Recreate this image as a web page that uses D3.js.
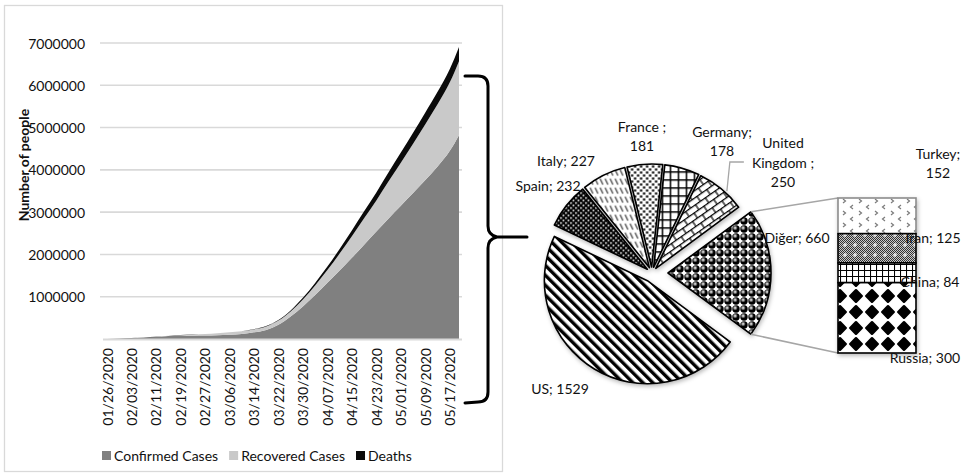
<!DOCTYPE html>
<html>
<head>
<meta charset="utf-8">
<script src="https://cdn.jsdelivr.net/npm/d3@7"></script>
<style>
  html, body { margin: 0; padding: 0; background: #fff; }
  svg { display: block; font-family: Lato, "Open Sans", sans-serif; }
</style>
</head>
<body>
<svg id="chart" width="964" height="474"></svg>
<script>
// ---------------- data ----------------
const dates = [
  "2020-01-26","2020-01-30","2020-02-03","2020-02-07","2020-02-11","2020-02-15",
  "2020-02-19","2020-02-23","2020-02-27","2020-03-02","2020-03-06","2020-03-10",
  "2020-03-14","2020-03-18","2020-03-22","2020-03-26","2020-03-30","2020-04-03",
  "2020-04-07","2020-04-11","2020-04-15","2020-04-19","2020-04-23","2020-04-27",
  "2020-05-01","2020-05-05","2020-05-09","2020-05-13","2020-05-17","2020-05-20"
];
const confirmed = [
  2000, 10000, 20000, 34000, 45000, 69000,
  75000, 79000, 83000, 90000, 102000, 119000,
  157000, 214000, 337000, 530000, 770000, 1040000,
  1330000, 1620000, 1920000, 2230000, 2540000, 2850000,
  3150000, 3450000, 3760000, 4080000, 4450000, 4820000
];
const recovered = [
  50, 200, 600, 2000, 5000, 9000,
  16000, 23000, 33000, 45000, 55000, 62000,
  72000, 83000, 98000, 122000, 165000, 226000,
  300000, 400000, 511000, 624000, 737000, 880000,
  1020000, 1170000, 1320000, 1470000, 1620000, 1750000
];
const deaths = [
  60, 200, 400, 700, 1100, 1700,
  2100, 2500, 2800, 3100, 3500, 4300,
  5800, 8700, 14600, 24000, 38000, 59000,
  82000, 109000, 137000, 165000, 190000, 211000,
  238000, 257000, 279000, 296000, 315000, 335000
];
const seriesNames = ["Confirmed Cases", "Recovered Cases", "Deaths"];
const yTicks = [1000000, 2000000, 3000000, 4000000, 5000000, 6000000, 7000000];
const xTickDates = [
  "2020-01-26","2020-02-03","2020-02-11","2020-02-19","2020-02-27","2020-03-06",
  "2020-03-14","2020-03-22","2020-03-30","2020-04-07","2020-04-15","2020-04-23",
  "2020-05-01","2020-05-09","2020-05-17"
];

// pie of countries (thousands); "Diğer" is split out into the bar
const pieCountries = ["Diğer", "US", "Spain", "Italy", "France", "Germany", "United Kingdom"];
const pieValues = [660, 1529, 232, 227, 181, 178, 250];
const barCountries = ["Turkey", "Iran", "China", "Russia"];
const barValues = [152, 125, 84, 300];

// ---------------- setup ----------------
const svg = d3.select("#chart");
const defs = svg.append("defs");
const textColor = "#111";

// soft outer shadow used by the pie and the bar
const shadow = defs.append("filter").attr("id", "shadow")
  .attr("x", "-20%").attr("y", "-20%").attr("width", "140%").attr("height", "140%");
shadow.append("feDropShadow").attr("dx", 1).attr("dy", 2)
  .attr("stdDeviation", 2.2).attr("flood-color", "#000").attr("flood-opacity", 0.28);

// ---- fill patterns ----
function pattern(id, w, h, transform) {
  const p = defs.append("pattern").attr("id", id)
    .attr("patternUnits", "userSpaceOnUse").attr("width", w).attr("height", h);
  if (transform) p.attr("patternTransform", transform);
  return p;
}
// wide downward diagonal
{
  const p = pattern("pUS", 7, 7, "rotate(-45)");
  p.append("rect").attr("width", 7).attr("height", 7).attr("fill", "#fff");
  p.append("rect").attr("width", 3.4).attr("height", 7).attr("fill", "#000");
}
// spheres
{
  const g = defs.append("radialGradient").attr("id", "gSphere")
    .attr("cx", "38%").attr("cy", "35%").attr("r", "65%");
  g.append("stop").attr("offset", "0").attr("stop-color", "#fff");
  g.append("stop").attr("offset", "0.22").attr("stop-color", "#9a9a9a");
  g.append("stop").attr("offset", "0.55").attr("stop-color", "#000");
  g.append("stop").attr("offset", "1").attr("stop-color", "#000");
  const p = pattern("pDiger", 8, 8);
  p.append("rect").attr("width", 8).attr("height", 8).attr("fill", "#fff");
  p.append("circle").attr("cx", 4).attr("cy", 4).attr("r", 3.7).attr("fill", "url(#gSphere)");
}
// shingle
{
  const p = pattern("pUK", 12, 12, "rotate(-35)");
  p.append("rect").attr("width", 12).attr("height", 12).attr("fill", "#fff");
  p.append("path").attr("d", "M0,0.6H12 M0,6.6H12 M3,0.6V6.6 M9,6.6V12.6")
    .attr("stroke", "#000").attr("stroke-width", 1.2).attr("fill", "none");
}
// large grid
{
  const p = pattern("pDE", 8, 8);
  p.append("rect").attr("width", 8).attr("height", 8).attr("fill", "#fff");
  p.append("path").attr("d", "M0,0.75H8 M0.75,0V8")
    .attr("stroke", "#000").attr("stroke-width", 1.5);
}
// confetti dots
{
  const p = pattern("pFR", 6, 6);
  p.append("rect").attr("width", 6).attr("height", 6).attr("fill", "#fff");
  p.append("rect").attr("x", 0.4).attr("y", 0.4).attr("width", 2.2).attr("height", 2.2).attr("fill", "#000");
  p.append("rect").attr("x", 3.4).attr("y", 3.4).attr("width", 2.2).attr("height", 2.2).attr("fill", "#000");
}
// dashed downward diagonal
{
  const p = pattern("pIT", 5, 9);
  p.append("rect").attr("width", 5).attr("height", 9).attr("fill", "#fff");
  p.append("path").attr("d", "M1,1.5L3.4,6.5").attr("stroke", "#444")
    .attr("stroke-width", 1.3).attr("stroke-linecap", "round");
}
// dark dotted
{
  const p = pattern("pES", 5, 5);
  p.append("rect").attr("width", 5).attr("height", 5).attr("fill", "#000");
  p.append("circle").attr("cx", 1.25).attr("cy", 1.25).attr("r", 0.9).attr("fill", "#fff");
  p.append("circle").attr("cx", 3.75).attr("cy", 3.75).attr("r", 0.9).attr("fill", "#fff");
}
// divot
{
  const p = pattern("pTR", 16, 12);
  p.append("rect").attr("width", 16).attr("height", 12).attr("fill", "#fff");
  p.append("path").attr("d", "M5,1L2.5,3L5,5 M11,7L13.5,9L11,11")
    .attr("stroke", "#7a7a7a").attr("stroke-width", 1.2).attr("fill", "none");
}
// stipple with white crosses
{
  const s = pattern("pStip", 2, 2);
  s.append("rect").attr("width", 2).attr("height", 2).attr("fill", "#c8c8c8");
  s.append("rect").attr("width", 1).attr("height", 1).attr("fill", "#333");
  s.append("rect").attr("x", 1).attr("y", 1).attr("width", 1).attr("height", 1).attr("fill", "#333");
  const p = pattern("pIR", 10, 10);
  p.append("rect").attr("width", 10).attr("height", 10).attr("fill", "url(#pStip)");
  p.append("path").attr("d", "M5,3V7 M3,5H7").attr("stroke", "#fff").attr("stroke-width", 1.1);
}
// small grid
{
  const p = pattern("pCN", 6, 6);
  p.append("rect").attr("width", 6).attr("height", 6).attr("fill", "#fff");
  p.append("path").attr("d", "M0,0.5H6 M0.5,0V6").attr("stroke", "#000").attr("stroke-width", 1.1);
}
// solid diamond
{
  const p = pattern("pRU", 16, 16);
  p.append("rect").attr("width", 16).attr("height", 16).attr("fill", "#fff");
  p.append("path").attr("d", "M8,2.2L13.8,8L8,13.8L2.2,8Z")
    .attr("fill", "#000").attr("stroke", "#000").attr("stroke-width", 2.4).attr("stroke-linejoin", "round");
}

// ================= left: stacked area chart =================
svg.append("rect").attr("x", 4.5).attr("y", 5.5).attr("width", 498).attr("height", 466)
  .attr("fill", "none").attr("stroke", "#d9d9d9").attr("stroke-width", 1.3);

const parse = d3.utcParse("%Y-%m-%d");
const rows = dates.map((d, i) => ({
  date: parse(d), confirmed: confirmed[i], recovered: recovered[i], deaths: deaths[i]
}));
const keys = ["confirmed", "recovered", "deaths"];
const colors = ["#808080", "#c9c9c9", "#0a0a0a"];

const x = d3.scaleUtc().domain(d3.extent(rows, d => d.date)).range([107, 459]);
const y = d3.scaleLinear().domain([0, 7000000]).range([339, 43]);

// gridlines
svg.append("g").selectAll("line").data(yTicks).join("line")
  .attr("x1", 100).attr("x2", 462)
  .attr("y1", d => y(d)).attr("y2", d => y(d))
  .attr("stroke", "#d9d9d9").attr("stroke-width", 1.6);

// stacked areas
const stacked = d3.stack().keys(keys)(rows);
const area = d3.area()
  .x(d => x(d.data.date))
  .y0(d => y(d[0]))
  .y1(d => y(d[1]))
  .curve(d3.curveMonotoneX);
svg.append("g").selectAll("path").data(stacked).join("path")
  .attr("d", area).attr("fill", (d, i) => colors[i]);

// category axis line
svg.append("line").attr("x1", 103).attr("x2", 462)
  .attr("y1", y(0) + 0.5).attr("y2", y(0) + 0.5)
  .attr("stroke", "#d9d9d9").attr("stroke-width", 2);

// value axis labels
const fmt = d3.format("d");
svg.append("g").selectAll("text").data(yTicks).join("text")
  .attr("x", 85).attr("y", d => y(d))
  .attr("text-anchor", "end").attr("dominant-baseline", "central")
  .attr("font-size", 14).attr("fill", textColor)
  .text(d => fmt(d));

// date labels
const dfmt = d3.utcFormat("%m/%d/%Y");
svg.append("g").selectAll("text").data(xTickDates.map(parse)).join("text")
  .attr("transform", d => `translate(${x(d)},348) rotate(-90)`)
  .attr("text-anchor", "end").attr("dominant-baseline", "central")
  .attr("font-size", 14).attr("fill", textColor)
  .text(d => dfmt(d));

// axis title
svg.append("text")
  .attr("transform", "translate(23,165) rotate(-90)")
  .attr("text-anchor", "middle").attr("dominant-baseline", "central")
  .attr("font-size", 14).attr("font-weight", "bold").attr("fill", textColor)
  .text("Number of people");

// legend
{
  const lg = svg.append("g");
  let lx = 102;
  seriesNames.forEach((name, i) => {
    lg.append("rect").attr("x", lx).attr("y", 451).attr("width", 9).attr("height", 9)
      .attr("fill", colors[i]);
    const t = lg.append("text").attr("x", lx + 12).attr("y", 455.5)
      .attr("dominant-baseline", "central").attr("font-size", 14).attr("fill", textColor)
      .text(name);
    lx += 12 + t.node().getComputedTextLength() + 11;
  });
}

// brace linking the total to the breakdown
svg.append("path")
  .attr("d", "M465,76 L478,76 Q488,76 488,86 L488,226 Q488,235 497,237 Q488,239 488,248 L488,392 Q488,402 478,402 L465,403 M496,237 L527,237")
  .attr("fill", "none").attr("stroke", "#000").attr("stroke-width", 3)
  .attr("stroke-linejoin", "round").attr("stroke-linecap", "round");

// ================= right: pie with breakdown bar =================
const cx = 652, cy = 273, R = 103;
const pieFills = ["url(#pDiger)", "url(#pUS)", "url(#pES)", "url(#pIT)", "url(#pFR)", "url(#pDE)", "url(#pUK)"];
const explode = [16, 9, 6, 6, 6, 6, 6];
const pieTotal = d3.sum(pieValues);
const a0 = Math.PI / 2 - Math.PI * pieValues[0] / pieTotal;
const arcs = d3.pie().sort(null).value(d => d)
  .startAngle(a0).endAngle(a0 + 2 * Math.PI)(pieValues);
const arcGen = d3.arc().innerRadius(0).outerRadius(R);

const slices = arcs.map((a, i) => {
  const mid = (a.startAngle + a.endAngle) / 2;
  return {
    a, i,
    ox: cx + explode[i] * Math.sin(mid),
    oy: cy - explode[i] * Math.cos(mid)
  };
});

const pieG = svg.append("g").attr("filter", "url(#shadow)");
pieG.selectAll("path").data(slices).join("path")
  .attr("transform", d => `translate(${d.ox},${d.oy})`)
  .attr("d", d => arcGen(d.a))
  .attr("fill", d => pieFills[d.i])
  .attr("stroke", "#000").attr("stroke-width", 1.6).attr("stroke-linejoin", "round");

// bar that breaks down the "Diğer" slice
const barX0 = 838, barX1 = 916;
const barTotal = d3.sum(barValues);
const by = d3.scaleLinear().domain([0, barTotal]).range([198, 353]);
const barFills = ["url(#pTR)", "url(#pIR)", "url(#pCN)", "url(#pRU)"];
const barStroke = ["#8c8c8c", "#000", "#000", "#000"];
let acc = 0;
const segs = barValues.map((v, i) => { const s = { i, v, y0: acc, y1: acc + v }; acc += v; return s; });

// connector lines from the slice corners to the bar
{
  const s = slices[0];
  const p1 = [s.ox + R * Math.sin(s.a.startAngle), s.oy - R * Math.cos(s.a.startAngle)];
  const p2 = [s.ox + R * Math.sin(s.a.endAngle), s.oy - R * Math.cos(s.a.endAngle)];
  svg.append("path")
    .attr("d", `M${p1[0]},${p1[1]}L${barX0},${by(0)} M${p2[0]},${p2[1]}L${barX0},${by(barTotal)}`)
    .attr("stroke", "#a6a6a6").attr("stroke-width", 1.5).attr("fill", "none");
}

const barG = svg.append("g").attr("filter", "url(#shadow)");
barG.selectAll("rect").data(segs).join("rect")
  .attr("x", barX0).attr("width", barX1 - barX0)
  .attr("y", d => by(d.y0)).attr("height", d => by(d.y1) - by(d.y0))
  .attr("fill", d => barFills[d.i])
  .attr("stroke", d => barStroke[d.i]).attr("stroke-width", 1.6);

// ---- data labels ----
function multiText(g, x0, y0, lines, anchor) {
  const lh = 19.5;
  const t = g.append("text").attr("text-anchor", anchor || "middle")
    .attr("font-size", 14).attr("fill", textColor);
  lines.forEach((ln, k) => {
    t.append("tspan").attr("x", x0)
      .attr("y", y0 + (k - (lines.length - 1) / 2) * lh)
      .attr("dominant-baseline", "central").text(ln);
  });
  return t;
}
const labels = svg.append("g");

// pie labels: text pieces and placement offsets from the pie centre
const pieLabelLines = (name, v) => ({
  "Diğer": [`${name}; ${v}`],
  "US": [`${name}; ${v}`],
  "Spain": [`${name}; ${v}`],
  "Italy": [`${name}; ${v}`],
  "France": [`${name} ;`, `${v}`],
  "Germany": [`${name};`, `${v}`],
  "United Kingdom": ["United", "Kingdom ;", `${v}`]
}[name]);
const pieLabelOffset = [[145, -36], [-92, 115], [-104, -88], [-86, -113], [-10, -137], [70, -132], [131, -111]];
pieCountries.forEach((name, i) => {
  const [dx, dy] = pieLabelOffset[i];
  multiText(labels, cx + dx, cy + dy, pieLabelLines(name, pieValues[i]));
});

// leader line for the United Kingdom label
{
  const s = slices[6];
  const ang = (s.a.startAngle + s.a.endAngle) / 2 + 0.05;
  const ex = s.ox + (R + 2) * Math.sin(ang), ey = s.oy - (R + 2) * Math.cos(ang);
  const ly = cy - 111;
  svg.append("path")
    .attr("d", `M${ex},${ey}L${ex + 3},${ly}L${ex + 17},${ly}`)
    .attr("fill", "none").attr("stroke", "#a6a6a6").attr("stroke-width", 1.3);
}

// bar labels: offsets from each segment's right-middle point
const barLabelLines = (name, v) => name === "Turkey" ? [`${name};`, `${v}`] : [`${name}; ${v}`];
const barLabelOffset = [[22, -53], [17, -11], [14, 9], [9, 40]];
segs.forEach((s, i) => {
  const [dx, dy] = barLabelOffset[i];
  multiText(labels, barX1 + dx, (by(s.y0) + by(s.y1)) / 2 + dy, barLabelLines(barCountries[i], s.v));
});
</script>
</body>
</html>
